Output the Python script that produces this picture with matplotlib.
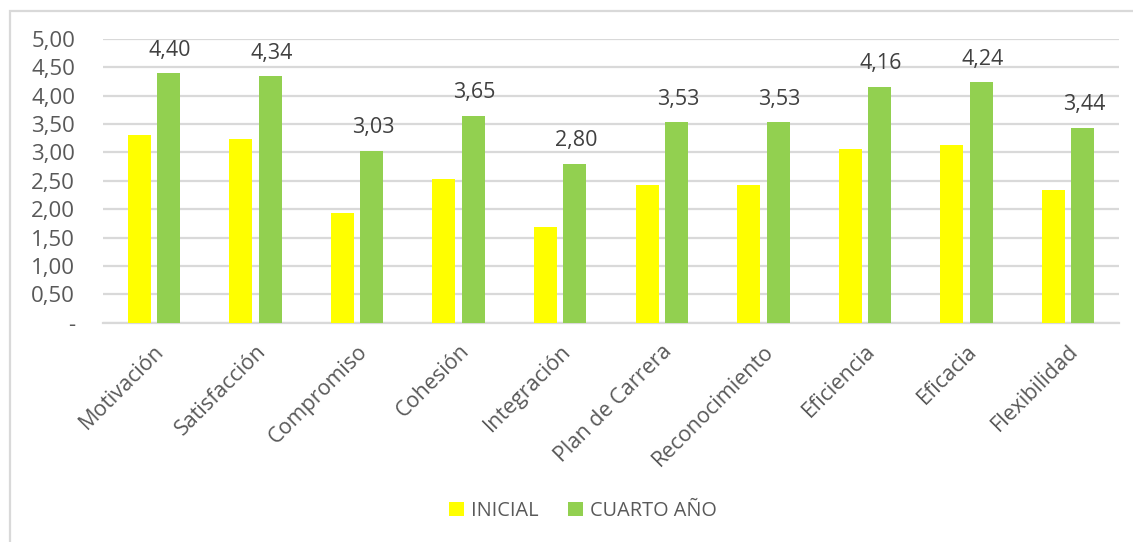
import matplotlib
matplotlib.use("Agg")
import matplotlib.pyplot as plt
from matplotlib.patches import Rectangle
import numpy as np

categories = ["Motivación", "Satisfacción", "Compromiso", "Cohesión", "Integración",
              "Plan de Carrera", "Reconocimiento", "Eficiencia", "Eficacia", "Flexibilidad"]
inicial = [3.30, 3.24, 1.93, 2.54, 1.69, 2.43, 2.43, 3.06, 3.14, 2.34]
cuarto_anio = [4.40, 4.34, 3.03, 3.65, 2.80, 3.53, 3.53, 4.16, 4.24, 3.44]
series_names = ["INICIAL", "CUARTO AÑO"]
y_ticks = [0, 0.5, 1.0, 1.5, 2.0, 2.5, 3.0, 3.5, 4.0, 4.5, 5.0]

YELLOW = "#FFFF00"
GREEN = "#92D050"
TEXT = "#595959"
GRID = "#D9D9D9"

plt.rcParams["font.family"] = ["Open Sans", "DejaVu Sans"]

W, H = 1133, 542
fig = plt.figure(figsize=(W / 100, H / 100), dpi=100)
fig.patch.set_facecolor("white")

# chart-area frame (left and top edges visible)
fig.patches.append(Rectangle((10 / W, -0.05), 1.2, (H - 10) / H + 0.05 - 1e-3,
                             transform=fig.transFigure, fill=False,
                             edgecolor=GRID, linewidth=1.6, zorder=0))

ax = fig.add_axes([103 / W, 219.3 / H, 1016 / W, (322.7 - 39) / H])

x = np.arange(len(categories))
bw = 0.226
off = 0.145
ax.bar(x - off, inicial, bw, color=YELLOW, label=series_names[0], zorder=3)
ax.bar(x + off, cuarto_anio, bw, color=GREEN, label=series_names[1], zorder=3)

for xi, v in zip(x + off, cuarto_anio):
    ax.annotate(f"{v:.2f}".replace(".", ","), (xi, v), xytext=(1, 9),
                textcoords="offset points", ha="center", va="bottom",
                fontsize=15.5, color="#404040")

ax.set_xlim(-0.5, len(categories) - 0.5)
ax.set_ylim(0, 5)
ax.set_yticks(y_ticks)
ax.set_yticklabels(["-" if t == 0 else f"{t:.2f}".replace(".", ",") for t in y_ticks])
ax.yaxis.grid(True, color=GRID, linewidth=1.6, zorder=0)
ax.set_axisbelow(True)
for s in ["top", "right", "left"]:
    ax.spines[s].set_visible(False)
ax.spines["bottom"].set_color(GRID)
ax.spines["bottom"].set_linewidth(1.6)
ax.tick_params(axis="y", length=0, pad=20, labelsize=16, labelcolor=TEXT)
ax.tick_params(axis="x", length=0, pad=13, labelsize=15.5, labelcolor=TEXT)
ax.set_xticks(x)
ax.set_xticklabels(categories, rotation=45, ha="right", rotation_mode="anchor")

leg = fig.legend(loc="center", bbox_to_anchor=(583 / W, 1 - 511 / H), ncol=2,
                 frameon=False, fontsize=14.3, handlelength=0.75, handleheight=0.75,
                 handletextpad=0.35, columnspacing=1.5)
for t in leg.get_texts():
    t.set_color(TEXT)

fig.savefig("out.png", dpi=100, facecolor="white")
